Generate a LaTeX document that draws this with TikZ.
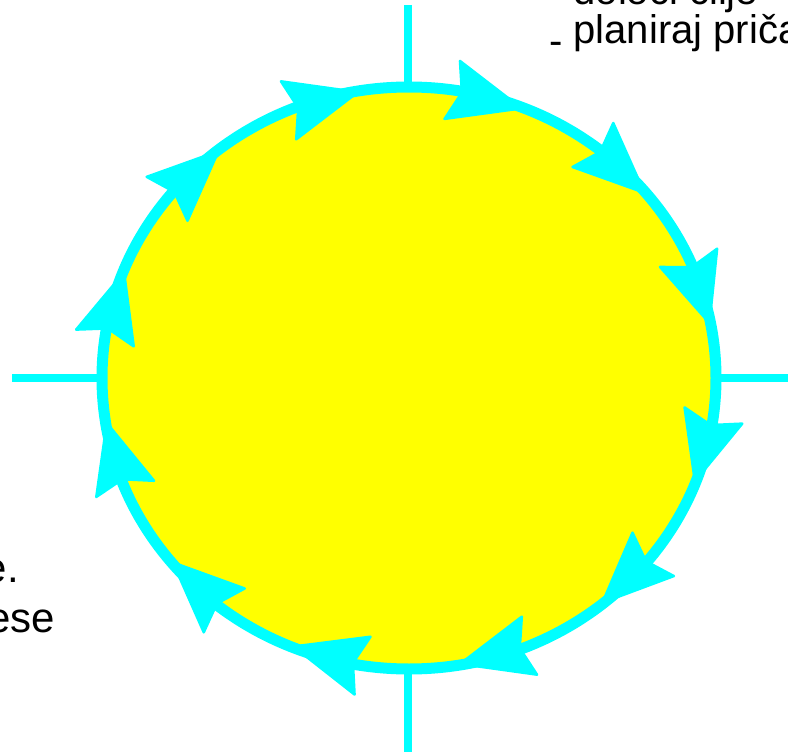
\documentclass[tikz,border=0pt]{standalone}
\usepackage{fontspec}
\setmainfont{Liberation Sans}
\usetikzlibrary{calc}
\definecolor{cy}{RGB}{0,255,255}
\definecolor{yl}{RGB}{255,255,0}
\tikzset{
  axisline/.style={draw=cy, line width=7.5},
  ring/.style={draw=cy, fill=yl, line width=11},
  headfill/.style={fill=cy, draw=cy, line width=2.5, line join=round},
  toptext/.style={anchor=base west, font=\fontsize{40}{42}\selectfont, inner sep=0},
  lefttext/.style={anchor=base east, font=\fontsize{42}{50}\selectfont, inner sep=0}
}
\begin{document}
\begin{tikzpicture}[x=1pt,y=-1pt]
\useasboundingbox (0,0) rectangle (788,752);
\clip (0,0) rectangle (788,752);
\fill[white] (0,0) rectangle (788,752);
\coordinate (C) at (409,378);
\coordinate (vtop) at (408,5);
\coordinate (vbot) at (408,752);
\coordinate (hl) at (12,378);
\coordinate (hr) at (788,378);
\draw[axisline] (vtop) -- (vbot);
\draw[axisline] (hl) -- (hr);
\draw[ring] (C) ellipse [x radius=307, y radius=291];
\foreach \t in {99.6,68.4,39.7,10.9,-20.9,-50.8,-80.4,-112.2,-140.5,-171.1,-201.4,-231.5}{
  \coordinate (T) at ({409+306*cos(\t)},{378-290*sin(\t)});
  \coordinate (B) at ({409+307*cos(\t+13.5)},{378-291*sin(\t+13.5)});
  \filldraw[headfill] (T) -- ($(B)!30pt!90:(T)$) -- ($(B)!10pt!(T)$) -- ($(B)!30pt!-90:(T)$) -- cycle;
}
\node[toptext] (t0) at (549,5) {- določi cilje};
\node[toptext] (t1) at (549,44) {\raisebox{-11pt}{-} planiraj pričakovanja};
\node[lefttext] (b1) at (19,582) {e.};
\node[lefttext] (b2) at (55,632) {ese};
\end{tikzpicture}
\end{document}
